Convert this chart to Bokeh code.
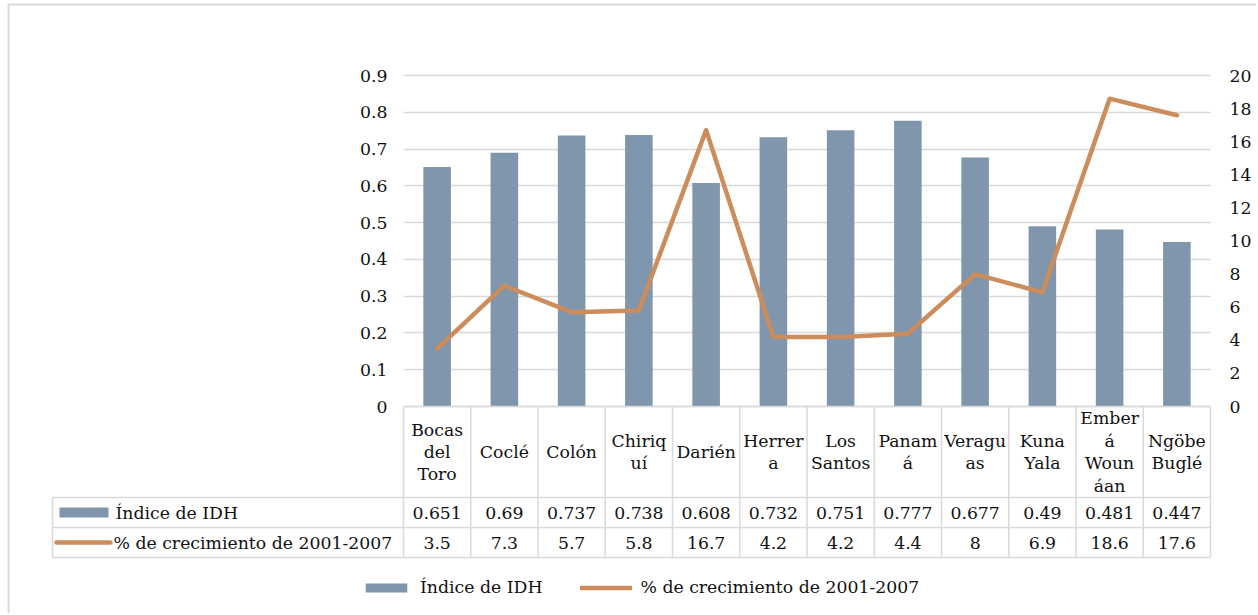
from bokeh.plotting import figure
from bokeh.models import Range1d, LinearAxis, FixedTicker, Legend, LegendItem
from bokeh.core.properties import value
from bokeh.embed import file_html
from bokeh.resources import INLINE

# ---------------- data ----------------
categories = ["Bocas del Toro", "Coclé", "Colón", "Chiriquí", "Darién", "Herrera",
              "Los Santos", "Panamá", "Veraguas", "Kuna Yala", "Emberá Wounáan", "Ngöbe Buglé"]
header_labels = ["Bocas\ndel\nToro", "Coclé", "Colón", "Chiriq\nuí", "Darién", "Herrer\na",
                 "Los\nSantos", "Panam\ná", "Veragu\nas", "Kuna\nYala", "Ember\ná\nWoun\náan",
                 "Ngöbe\nBuglé"]
idh = [0.651, 0.69, 0.737, 0.738, 0.608, 0.732, 0.751, 0.777, 0.677, 0.49, 0.481, 0.447]
pct = [3.5, 7.3, 5.7, 5.8, 16.7, 4.2, 4.2, 4.4, 8, 6.9, 18.6, 17.6]
idh_ticks = [0, 0.1, 0.2, 0.3, 0.4, 0.5, 0.6, 0.7, 0.8, 0.9]
idh_tick_labels = ["0", "0.1", "0.2", "0.3", "0.4", "0.5", "0.6", "0.7", "0.8", "0.9"]
pct_ticks = [0, 2, 4, 6, 8, 10, 12, 14, 16, 18, 20]
series_names = ["Índice de IDH", "% de crecimiento de 2001-2007"]

# ---------------- layout (page pixels) ----------------
W, H = 1256, 613
PLOT_L, PLOT_R = 403, 1210      # plot area left/right
YTOP, Y0 = 75, 406              # top gridline / baseline
FRAME_L, FRAME_T, FRAME_R, FRAME_B = 6, 2, W, H
ROW_HDR_B, ROW1_B, ROW2_B = 497, 527, 557
KEY_L = 52
BORDER_X, BORDER_Y = 8, 4

BAR_C = "#7F96AC"
LINE_C = "#CC8C5C"
GRID_C = "#D9D9D9"
TXT_C = "#111111"
FONT = "DejaVu Serif"
FS = "17.3px"

n = len(categories)
unit = (PLOT_R - PLOT_L) / n
xs = [i + 0.5 for i in range(n)]
idh_max = idh_ticks[-1]
pct_max = pct_ticks[-1]
span = Y0 - YTOP
below = (FRAME_B - Y0) / span
above = (YTOP - FRAME_T) / span

p = figure(width=W, height=H, output_backend="svg", toolbar_location=None,
           x_axis_location=None,
           x_range=Range1d((FRAME_L - PLOT_L) / unit, n + (FRAME_R - PLOT_R) / unit),
           y_range=Range1d(-below * idh_max, (1 + above) * idh_max),
           min_border_left=FRAME_L, min_border_right=W - FRAME_R,
           min_border_top=FRAME_T, min_border_bottom=0)
p.extra_y_ranges = {"pct": Range1d(-below * pct_max, (1 + above) * pct_max),
                    "px": Range1d(FRAME_B, FRAME_T)}
p.extra_x_ranges = {"px": Range1d(FRAME_L, FRAME_R)}
p.outline_line_color = None
p.background_fill_color = "white"
p.border_fill_color = "white"

# grid
p.xgrid.visible = False
p.ygrid.ticker = FixedTicker(ticks=idh_ticks)
p.ygrid.grid_line_color = GRID_C
p.ygrid.grid_line_width = 1.5
grid_ok = True
try:
    p.ygrid.cross_bounds = (0, n)
except Exception:
    grid_ok = False
if not grid_ok:
    p.ygrid.visible = False
    p.segment(x0=[0] * len(idh_ticks), x1=[n] * len(idh_ticks), y0=idh_ticks, y1=idh_ticks,
              line_color=GRID_C, line_width=1.5)

# left axis (IDH)
ya = p.yaxis[0]
ya.ticker = FixedTicker(ticks=idh_ticks)
ya.major_label_overrides = {t: l for t, l in zip(idh_ticks, idh_tick_labels)}
ya.fixed_location = 0
ya.axis_line_color = None
ya.major_tick_line_color = None
ya.minor_tick_line_color = None
ya.major_label_standoff = 10
ya.major_label_text_font = FONT
ya.major_label_text_font_size = FS
ya.major_label_text_color = TXT_C

# right axis (%)
ra = LinearAxis(y_range_name="pct", ticker=FixedTicker(ticks=pct_ticks))
ra.fixed_location = n
ra.axis_line_color = None
ra.major_tick_line_color = None
ra.minor_tick_line_color = None
ra.major_label_standoff = 13
ra.major_label_text_font = FONT
ra.major_label_text_font_size = FS
ra.major_label_text_color = TXT_C
p.add_layout(ra, "right")

# chart-area border (left and top edges)
p.segment(x0=[BORDER_X, BORDER_X], x1=[BORDER_X, FRAME_R + 10], y0=[FRAME_B + 5, BORDER_Y],
          y1=[BORDER_Y, BORDER_Y], x_range_name="px", y_range_name="px",
          line_color=GRID_C, line_width=2)

# bars and line
p.vbar(x=xs, top=idh, bottom=0, width=0.41, fill_color=BAR_C, line_color=None)
p.line(x=xs, y=pct, y_range_name="pct", line_color=LINE_C, line_width=4.5,
       line_join="round", line_cap="round")

# data table lines
hx0 = [PLOT_L, KEY_L, KEY_L, KEY_L]
hx1 = [PLOT_R] * 4
hy = [Y0, ROW_HDR_B, ROW1_B, ROW2_B]
p.segment(x0=hx0, x1=hx1, y0=hy, y1=hy, x_range_name="px", y_range_name="px",
          line_color=GRID_C, line_width=1.5)
vk = list(range(n + 1))
p.segment(x0=vk, x1=vk, y0=[Y0] * (n + 1), y1=[ROW2_B] * (n + 1), y_range_name="px",
          line_color=GRID_C, line_width=1.5)
p.segment(x0=[KEY_L], x1=[KEY_L], y0=[ROW_HDR_B], y1=[ROW2_B], x_range_name="px",
          y_range_name="px", line_color=GRID_C, line_width=1.5)

# table texts
text_kw = dict(text_font=value(FONT), text_font_size=FS, text_color=TXT_C)
p.text(x=xs, y=[(Y0 + ROW_HDR_B) / 2] * n, text=header_labels, y_range_name="px",
       text_align="center", text_baseline="middle", text_line_height=1.12, **text_kw)
p.text(x=xs, y=[(ROW_HDR_B + ROW1_B) / 2] * n, text=[f"{v:g}" for v in idh],
       y_range_name="px", text_align="center", text_baseline="middle", **text_kw)
p.text(x=xs, y=[(ROW1_B + ROW2_B) / 2] * n, text=[f"{v:g}" for v in pct],
       y_range_name="px", text_align="center", text_baseline="middle", **text_kw)

# legend keys inside the table
key_bar = p.quad(left=[59], right=[108], top=[507], bottom=[517], x_range_name="px",
                 y_range_name="px", fill_color=BAR_C, line_color=None)
key_line = p.line(x=[56, 110], y=[542, 542], x_range_name="px", y_range_name="px",
                  line_color=LINE_C, line_width=4.5, line_cap="round")
p.text(x=[115, 113], y=[(ROW_HDR_B + ROW1_B) / 2, (ROW1_B + ROW2_B) / 2],
       text=series_names, x_range_name="px", y_range_name="px",
       text_align="left", text_baseline="middle", **text_kw)

# bottom legend
legend = Legend(items=[LegendItem(label=series_names[0], renderers=[key_bar]),
                       LegendItem(label=series_names[1], renderers=[key_line])],
                orientation="horizontal", location=(360 - FRAME_L, FRAME_B - 597))
legend.border_line_color = None
legend.background_fill_alpha = 0
legend.padding = 0
legend.margin = 0
legend.spacing = 38
legend.glyph_width = 52
legend.glyph_height = 11
legend.label_standoff = 8
legend.label_text_font = FONT
legend.label_text_font_size = FS
legend.label_text_color = TXT_C
p.add_layout(legend)

open("out.html", "w").write(file_html(p, INLINE))
